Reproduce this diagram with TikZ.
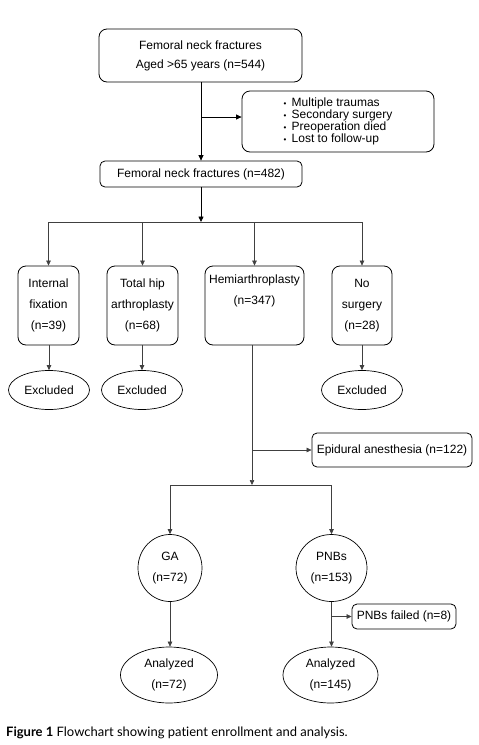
\documentclass[tikz,border=0pt]{standalone}
\usepackage{fontspec}
\setmainfont{Liberation Sans}
\newfontfamily\capfont[Ligatures=NoCommon]{Lato}
\usetikzlibrary{arrows.meta,shapes.geometric}
\begin{document}
\begin{tikzpicture}[x=1pt,y=-1pt,
  font=\fontsize{12}{21}\selectfont,
  rbox/.style={draw=black, line width=0.8pt, rounded corners=8pt, align=center, inner sep=0pt},
  sbox/.style={draw=black, line width=0.8pt, rounded corners=5pt, align=center, inner sep=0pt},
  ell/.style={draw=black, line width=0.7pt, ellipse, align=center, inner sep=0pt},
  conn/.style={draw=black!75, line width=0.6pt},
  arr/.style={conn, -{Triangle[length=5pt,width=4.5pt]}},
  topconn/.style={draw=black, line width=0.8pt},
  toparr/.style={topconn, -{Triangle[length=5.5pt,width=5pt]}}
]
\useasboundingbox[fill=white] (0,0) rectangle (479,745);

\node[rbox, minimum width=203pt, minimum height=53pt] (top) at (200.5,55.5)
  {Femoral neck fractures\\[-2pt] Aged >65 years (n=544)};
\node[rbox, minimum width=192pt, minimum height=61pt,
  font=\fontsize{12}{12}\selectfont, align=left] (excl) at (338,121.5)
  {{\footnotesize\textbullet}\, Multiple traumas\\
   {\footnotesize\textbullet}\, Secondary surgery\\
   {\footnotesize\textbullet}\, Preoperation died\\
   {\footnotesize\textbullet}\, Lost to follow-up};
\node[sbox, minimum width=202pt, minimum height=26pt] (fnf) at (201,174)
  {Femoral neck fractures (n=482)};

\coordinate (j1) at (201,117);
\draw[toparr] (top.south -| j1) -- (fnf.north -| j1);
\draw[toparr] (j1) -- (excl.west |- j1);

\node[rbox, minimum width=61pt, minimum height=79pt] (b1) at (48.5,305.5)
  {Internal\\ fixation\\ (n=39)};
\node[rbox, minimum width=71pt, minimum height=79pt] (b2) at (142.5,305.5)
  {Total hip\\ arthroplasty\\ (n=68)};
\node[rbox, minimum width=99pt, minimum height=79pt] (b3) at (254.5,305.5)
  {Hemiarthroplasty\\ (n=347)\\[11pt]};
\node[rbox, minimum width=60pt, minimum height=79pt] (b4) at (362,305.5)
  {No\\ surgery\\ (n=28)};

\coordinate (j2) at (201,222);
\draw[toparr] (fnf.south -| j2) -- (j2);
\draw[conn] (j2 -| b1) -- (j2 -| b4);
\foreach \b in {b1,b2,b3,b4} \draw[arr] (j2 -| \b) -- (\b.north);

\node[ell, minimum width=81pt, minimum height=39pt] (e1) at (49,390) {Excluded};
\node[ell, minimum width=81pt, minimum height=39pt] (e2) at (142,390) {Excluded};
\node[ell, minimum width=81pt, minimum height=39pt] (e4) at (362,390) {Excluded};
\draw[arr] (b1.south -| e1) -- (e1.north);
\draw[arr] (b2.south -| e2) -- (e2.north);
\draw[arr] (b4.south -| e4) -- (e4.north);

\node[sbox, minimum width=160pt, minimum height=34pt] (epi) at (392,450)
  {Epidural anesthesia (n=122)};
\coordinate (j3) at (252,450);
\coordinate (j4) at (252,485);
\draw[arr] (b3.south -| j3) -- (j4);
\draw[arr] (j3) -- (epi.west);

\node[ell, minimum width=64pt, minimum height=67pt] (ga) at (170,568)
  {GA\\ (n=72)};
\node[ell, minimum width=71pt, minimum height=67pt] (pnb) at (331.5,568)
  {PNBs\\ (n=153)};
\draw[conn] (j4 -| ga) -- (j4 -| pnb);
\draw[arr] (j4 -| ga) -- (ga.north);
\draw[arr] (j4 -| pnb) -- (pnb.north);

\node[ell, minimum width=97pt, minimum height=56pt] (ga2) at (169,675)
  {Analyzed\\ (n=72)};
\node[ell, minimum width=95pt, minimum height=56pt] (pnb2) at (330.5,675)
  {Analyzed\\ (n=145)};
\node[sbox, minimum width=104pt, minimum height=25pt] (fail) at (404,616.5)
  {PNBs failed (n=8)};
\draw[arr] (ga.south) -- (ga.south |- ga2.north);
\draw[arr] (pnb.south) -- (pnb.south |- pnb2.north);
\coordinate (j5) at (331.5,616.5);
\draw[arr] (j5) -- (fail.west);

\node[anchor=west, inner sep=0pt, font=\capfont\fontsize{13}{15}\selectfont] (cap) at (6,733)
  {\textbf{Figure 1} Flowchart showing pat\kern0pt ient enrollment and analysis.};
\end{tikzpicture}
\end{document}
